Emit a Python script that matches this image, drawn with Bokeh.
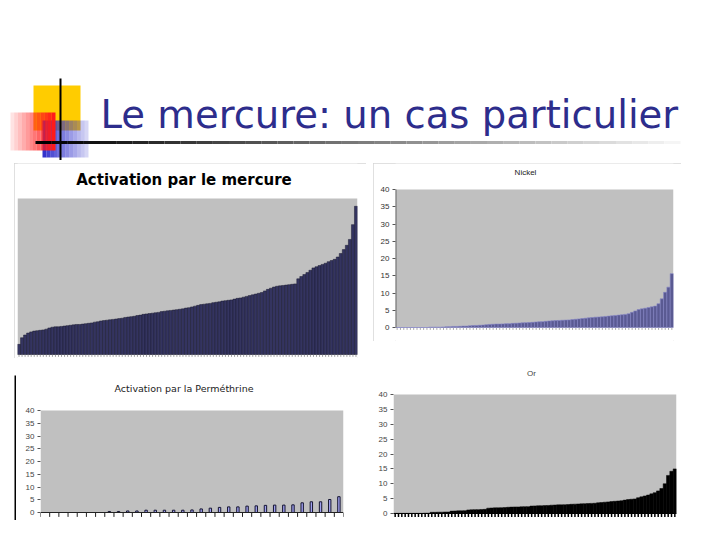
import numpy as np
from bokeh.plotting import figure
from bokeh.layouts import column, row
from bokeh.models import Spacer, Range1d, FixedTicker
from bokeh.core.properties import value
from bokeh.embed import file_html
from bokeh.resources import INLINE

slide_title = "Le mercure: un cas particulier"
chart_titles = ["Activation par le mercure", "Nickel", "Activation par la Perméthrine", "Or"]
y_ticks = [0, 5, 10, 15, 20, 25, 30, 35, 40]

mercure_values = [
    2.6, 4.3, 5.0, 5.5, 5.8, 6.0, 6.1, 6.2, 6.3, 6.5, 6.8, 7.0, 7.1, 7.1, 7.2, 7.3, 7.4, 7.5, 7.6, 7.7, 7.7, 7.8, 7.9, 8.0,
    8.1, 8.3, 8.4, 8.6, 8.7, 8.8, 8.9, 9.0, 9.1, 9.2, 9.3, 9.5, 9.6, 9.7, 9.8, 10.0, 10.1, 10.3, 10.4, 10.5, 10.6, 10.7, 10.8, 11.0,
    11.1, 11.2, 11.3, 11.4, 11.5, 11.6, 11.7, 11.9, 12.0, 12.2, 12.4, 12.6, 12.8, 12.9, 13.0, 13.1, 13.3, 13.4, 13.5, 13.7, 13.8, 13.9, 14.0, 14.2,
    14.4, 14.5, 14.7, 14.9, 15.1, 15.3, 15.5, 15.7, 15.9, 16.3, 16.7, 17.0, 17.3, 17.5, 17.6, 17.7, 17.8, 17.9, 18.0, 18.1, 19.4, 20.0, 20.5, 21.0,
    21.6, 22.2, 22.5, 22.8, 23.1, 23.4, 23.8, 24.1, 24.4, 25.0, 25.9, 26.9, 28.0, 29.5, 33.3, 38.0,
]

nickel_values = [
    0, 0, 0, 0, 0, 0, 0, 0, 0, 0,
    0.1, 0.1, 0.1, 0.1, 0.15, 0.2, 0.25, 0.3, 0.3, 0.35,
    0.4, 0.4, 0.5, 0.55, 0.6, 0.65, 0.7, 0.8, 0.9, 0.95,
    1.0, 1.0, 1.05, 1.1, 1.1, 1.2, 1.25, 1.3, 1.35, 1.4,
    1.45, 1.5, 1.6, 1.65, 1.7, 1.8, 1.9, 1.95, 2.0, 2.05,
    2.1, 2.15, 2.2, 2.3, 2.4, 2.5, 2.6, 2.7, 2.8, 2.9,
    3.0, 3.05, 3.1, 3.2, 3.3, 3.4, 3.5, 3.6, 3.7, 3.8,
    4.0, 4.4, 4.8, 5.2, 5.4, 5.6, 5.8, 6.0, 6.2, 6.9,
    8.3, 10.2, 11.7, 15.6,
]

perm_values = [
    0, 0, 0, 0, 0, 0, 0,
    0.4, 0.4, 0.6, 0.6, 0.9, 0.9, 0.9, 0.9, 0.9, 1.0, 1.4, 1.7, 2.0,
    2.2, 2.2, 2.5, 2.6, 2.8, 2.9, 2.9, 3.0, 3.8, 4.2, 4.2, 5.1, 6.2,
]

or_values = [
    0.05, 0.05, 0.05, 0.05, 0.05, 0.05, 0.05, 0.05, 0.05, 0.1, 0.1,
    0.4, 0.4, 0.45, 0.45, 0.5, 0.5,
    0.8, 0.85, 0.9, 0.9, 0.95,
    1.2, 1.25, 1.3, 1.3, 1.35, 1.4,
    1.8, 1.85, 1.9, 1.9, 1.95, 2.0,
    2.1, 2.15, 2.2, 2.2, 2.25, 2.3, 2.3,
    2.5, 2.55, 2.6, 2.6, 2.65, 2.7,
    2.8, 2.85, 2.9, 2.9, 2.95, 3.0,
    3.1, 3.15, 3.2, 3.25, 3.3, 3.35, 3.4, 3.45,
    3.6, 3.7, 3.8, 3.9, 4.0, 4.1, 4.2, 4.3,
    4.5, 4.7, 4.8, 4.9,
    5.3, 5.6, 5.9,
    6.2, 6.6, 7.0,
    7.6, 8.4,
    10.0, 12.8,
    14.2, 15.0,
]

FONT = "Liberation Sans"
YMAX = 40

# ---------------- header (slide title + decoration), coordinates = page pixels ----------------
header = figure(width=712, height=160, output_backend="svg", toolbar_location=None,
                x_range=Range1d(0, 712), y_range=Range1d(160, 0),
                x_axis_location=None, y_axis_location=None, min_border=0,
                outline_line_color=None, background_fill_color="white", border_fill_color="white")
header.grid.visible = False

header.quad(left=[33], right=[80], top=[85], bottom=[130], fill_color="#ffcc00", line_color=None)
steps = 12
xb = np.linspace(42, 88, steps + 1)
header.quad(left=xb[:-1], right=xb[1:], top=[120] * steps, bottom=[157] * steps,
            fill_color="#3333cc", fill_alpha=list(np.linspace(1.0, 0.2, steps)), line_color=None)
xs = np.linspace(10, 55, steps + 1)
header.quad(left=xs[:-1], right=xs[1:], top=[112] * steps, bottom=[150] * steps,
            fill_color="#ff1a1a", fill_alpha=list(np.linspace(0.12, 1.0, steps)), line_color=None)
header.segment(x0=[60], y0=[78], x1=[60], y1=[160], line_color="black", line_width=2)
nseg = 40
hx = np.linspace(35, 680, nseg + 1)
greys = ["#%02x%02x%02x" % (int(v), int(v), int(v)) for v in np.linspace(0, 245, nseg)]
header.segment(x0=hx[:-1], y0=[142] * nseg, x1=hx[1:], y1=[142] * nseg, line_color=greys, line_width=3)
header.text(x=[100], y=[114], text=[slide_title], text_font=value("DejaVu Sans"), text_font_size="38.6px",
            text_color="#2d2d8c", text_baseline="alphabetic", text_align="left")


def chart(values, fig_x, fig_y, fig_w, fig_h, plot_l, plot_r, plot_t, plot_b, y_axis, styles=None):
    """fig_* : figure box in page pixels; plot_* : pixel edges of the 0..40 plotting area."""
    n = len(values)
    left = plot_l - fig_x
    right = fig_x + fig_w - plot_r
    k = (plot_b - plot_t) / YMAX
    y_hi = YMAX + (plot_t - fig_y) / k
    y_lo = -(fig_y + fig_h - plot_b) / k
    p = figure(width=fig_w, height=fig_h, output_backend="svg", toolbar_location=None,
               x_range=Range1d(-0.5, n - 0.5), y_range=Range1d(y_lo, y_hi),
               min_border_left=left, min_border_right=right, min_border_top=0, min_border_bottom=0,
               background_fill_color="white", border_fill_color="white", outline_line_color=None,
               x_axis_location=None, y_axis_location="left" if y_axis else None,
               styles=styles or {})
    p.grid.visible = False
    if y_axis:
        p.yaxis.ticker = FixedTicker(ticks=y_ticks)
        p.yaxis.minor_tick_line_color = None
        p.yaxis.major_tick_in = 0
        p.yaxis.major_tick_out = 3
        p.yaxis.major_label_standoff = 3
        p.yaxis.major_label_text_font = FONT
        p.yaxis.major_label_text_font_size = "8px"
        p.yaxis.major_label_text_color = "#333333"
        p.yaxis.axis_line_color = None
        p.yaxis.major_tick_line_color = "#555555"
    # grey plotting area
    p.quad(left=[-0.5], right=[n - 0.5], bottom=[0], top=[YMAX], fill_color="#c0c0c0", line_color=None)
    ppu = (plot_r - plot_l) / n
    return p, k, ppu


def add_title(p, text, px_x, px_y, plot_l, plot_t, k, ppu, size, font, style, color):
    tx = -0.5 + (px_x - plot_l) / ppu
    ty = YMAX + (plot_t - px_y) / k
    p.text(x=[tx], y=[ty], text=[text], text_font=value(font), text_font_size=size,
           text_font_style=style, text_color=color, text_align="center", text_baseline="middle")


def add_ticks(p, n, k, length_px, color, width, at_bounds=False):
    pos = [i - 0.5 for i in range(n + 1)] if at_bounds else list(range(n))
    p.segment(x0=pos, y0=[-0.4 / k] * len(pos), x1=pos, y1=[-(0.4 + length_px) / k] * len(pos),
              line_color=color, line_width=width)


box_style = {"outline": "1px solid #d6d6d6", "outline-offset": "-1px"}

# ---------------- Mercure ----------------
pA, kA, uA = chart(mercure_values, 14, 163, 352, 195, 17, 357, 198, 354, False, box_style)
pA.vbar(x=list(range(len(mercure_values))), top=mercure_values, width=1.0,
        fill_color="#343460", line_color="#1b1b30", line_width=0.5)
add_ticks(pA, len(mercure_values), kA, 2, "#a0a0a0", 1)
add_title(pA, chart_titles[0], 183.5, 179, 17, 198, kA, uA, "15px", "DejaVu Sans", "bold", "black")

# ---------------- Nickel ----------------
pB, kB, uB = chart(nickel_values, 373, 163, 308, 178, 395, 673, 189, 327, True, box_style)
pB.vbar(x=list(range(len(nickel_values))), top=nickel_values, width=1.0,
        fill_color="#5a5a92", line_color="#8484c6", line_width=0.6)
pB.segment(x0=[-0.5], y0=[0], x1=[-0.5], y1=[YMAX], line_color="#666666", line_width=2)
add_ticks(pB, len(nickel_values), kB, 2, "#a8a8a8", 1)
add_title(pB, chart_titles[1], 525, 172, 395, 189, kB, uB, "8px", FONT, "normal", "#222222")

# ---------------- Permethrine ----------------
pC, kC, uC = chart(perm_values, 16, 360, 353, 164, 40, 343, 410, 512, True)
pC.vbar(x=list(range(len(perm_values))), top=perm_values, width=0.26,
        fill_color="#a0a0f0", line_color="#141430", line_width=1)
pC.segment(x0=[-0.5], y0=[0], x1=[len(perm_values) - 0.5], y1=[0], line_color="#222222", line_width=1)
add_ticks(pC, len(perm_values), kC, 4, "#222222", 1, at_bounds=True)
add_title(pC, chart_titles[2], 183.5, 388, 40, 410, kC, uC, "9.5px", "DejaVu Sans", "normal", "#222222")
pC.yaxis.major_label_text_color = "#444444"

# ---------------- Or ----------------
pD, kD, uD = chart(or_values, 369, 360, 315, 165, 393, 676, 394, 513, True)
pD.vbar(x=list(range(len(or_values))), top=or_values, width=1.0,
        fill_color="#000000", line_color="#000000", line_width=0.5)
pD.segment(x0=[-0.5], y0=[0], x1=[len(or_values) - 0.5], y1=[0], line_color="#000000", line_width=1)
add_ticks(pD, len(or_values), kD, 3, "#000000", 1.5)
add_title(pD, chart_titles[3], 531, 373, 393, 394, kD, uD, "8px", FONT, "normal", "#444444")
pD.yaxis.major_label_text_color = "#444444"

# slide frame line at the left of the lower charts
vline = figure(width=2, height=145, output_backend="svg", toolbar_location=None, min_border=0,
               x_axis_location=None, y_axis_location=None, outline_line_color=None,
               background_fill_color="black", border_fill_color="black")
vline.grid.visible = False

layout = column(
    header,
    Spacer(height=3),
    row(Spacer(width=14), pA, Spacer(width=7), pB),
    Spacer(height=2),
    row(Spacer(width=14), column(Spacer(height=15), vline), pC, pD),
)

open("out.html", "w").write(file_html(layout, INLINE))
